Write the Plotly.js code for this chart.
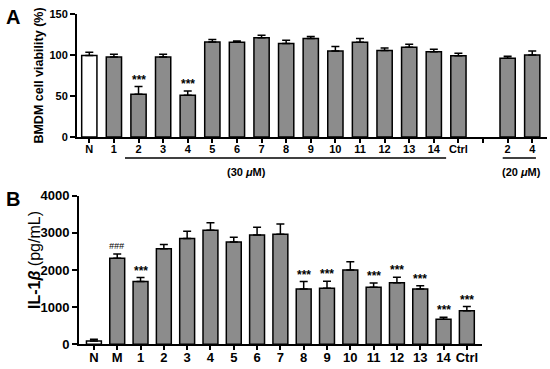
<!DOCTYPE html>
<html>
<head>
<meta charset="utf-8">
<script src="https://cdn.plot.ly/plotly-3.0.1.min.js"></script>
<style>html,body{margin:0;padding:0;background:#fff}#chart{width:550px;height:369px}</style>
</head>
<body>
<div id="chart"></div>
<script>
// ---- Panel A data: BMDM cell viability (%) ----
const labelsA = ['N','1','2','3','4','5','6','7','8','9','10','11','12','13','14','Ctrl','','2','4'];
const viabA   = [99.5,97.5,52,97.5,51,116,115.5,121,114,120,105,115.5,105.5,109.5,104,99,null,96,100];
const errA    = [4,3.5,9.5,3.5,5,3,1.5,3,4,2.5,5.5,4.5,3,3.5,3,3,null,2.5,5];
const sigA    = ['','','***','','***','','','','','','','','','','','','','',''];
const yTicksA = [0,50,100,150];

// ---- Panel B data: IL-1beta (pg/mL) ----
const labelsB = ['N','M','1','2','3','4','5','6','7','8','9','10','11','12','13','14','Ctrl'];
const il1bB   = [90,2315,1690,2575,2845,3070,2755,2945,2960,1490,1510,2000,1535,1660,1490,675,900];
const errB    = [45,115,105,110,200,205,125,205,280,200,190,220,115,145,85,50,115];
const sigB    = ['','###','***','','','','','','','***','***','','***','***','***','***','***'];
const yTicksB = [0,1000,2000,3000,4000];

const W = 550, H = 369;
const FONT = 'Liberation Sans, Arial, Helvetica, sans-serif';
const GREY = '#8c8c8c';
const px = v => v / W;
const py = v => 1 - v / H;

const idxA = labelsA.map((_, i) => i);
const idxB = labelsB.map((_, i) => i);
const colA = labelsA.map((l, i) => i === 0 ? '#ffffff' : GREY);
const colB = labelsB.map((l, i) => i === 0 ? '#ffffff' : GREY);

const lineStyle = {color: '#000', width: 1.5};

const traceA = {
  type: 'bar', x: idxA, y: viabA, xaxis: 'x', yaxis: 'y', width: 0.62,
  marker: {color: colA, line: lineStyle},
  error_y: {type: 'data', symmetric: false, array: errA, arrayminus: errA.map(() => 0),
            color: '#000', thickness: 1.5, width: 4},
  hoverinfo: 'x+y', showlegend: false
};
const traceB = {
  type: 'bar', x: idxB, y: il1bB, xaxis: 'x2', yaxis: 'y2', width: 0.64,
  marker: {color: colB, line: lineStyle},
  error_y: {type: 'data', symmetric: false, array: errB, arrayminus: errB.map(() => 0),
            color: '#000', thickness: 1.5, width: 4},
  hoverinfo: 'x+y', showlegend: false
};

const axisCommon = {
  showline: true, linecolor: '#000', linewidth: 2, ticks: 'outside', ticklen: 5,
  tickwidth: 2, tickcolor: '#000', showgrid: false, zeroline: false, fixedrange: true
};

const annotations = [];
sigA.forEach((s, i) => {
  if (s) annotations.push({xref: 'x', yref: 'y', x: i, y: viabA[i] + errA[i], text: '<b>' + s + '</b>',
    showarrow: false, yanchor: 'bottom', yshift: -2, font: {family: FONT, size: 12, color: '#000'}});
});
sigB.forEach((s, i) => {
  if (s) annotations.push({xref: 'x2', yref: 'y2', x: i, y: il1bB[i] + errB[i],
    text: s === '###' ? '<i>' + s + '</i>' : '<b>' + s + '</b>',
    showarrow: false, yanchor: 'bottom', yshift: s === '###' ? 1 : -2,
    font: {family: FONT, size: s === '###' ? 9 : 12, color: '#000'}});
});
annotations.push(
  {xref: 'paper', yref: 'paper', x: px(4), y: py(4), xanchor: 'left', yanchor: 'top', text: '<b>A</b>',
   showarrow: false, font: {family: FONT, size: 20, color: '#000'}},
  {xref: 'paper', yref: 'paper', x: px(4), y: py(186), xanchor: 'left', yanchor: 'top', text: '<b>B</b>',
   showarrow: false, font: {family: FONT, size: 20, color: '#000'}},
  {xref: 'x', yref: 'paper', x: 6.4, y: py(172), text: '<b>(30 <i>μ</i>M)</b>', showarrow: false,
   font: {family: FONT, size: 11, color: '#000'}},
  {xref: 'x', yref: 'paper', x: 17.55, y: py(172), text: '<b>(20 <i>μ</i>M)</b>', showarrow: false,
   font: {family: FONT, size: 11, color: '#000'}},
  {xref: 'paper', yref: 'paper', x: px(34), y: py(260), xanchor: 'center', yanchor: 'middle',
   textangle: -90, text: '<b>IL-1<i>β</i></b> (pg/mL)', showarrow: false,
   font: {family: FONT, size: 16, color: '#000'}}
);

const shapes = [
  {type: 'line', xref: 'x', yref: 'paper', x0: 1.45, x1: 14.5, y0: py(158), y1: py(158),
   line: {color: '#000', width: 1.5}},
  {type: 'line', xref: 'x', yref: 'paper', x0: 16.8, x1: 18.15, y0: py(158), y1: py(158),
   line: {color: '#000', width: 1.5}}
];

const layout = {
  width: W, height: H, margin: {l: 0, r: 0, t: 0, b: 0},
  paper_bgcolor: '#fff', plot_bgcolor: 'rgba(0,0,0,0)',
  font: {family: FONT, color: '#000'},
  bargap: 0.3,
  xaxis: Object.assign({}, axisCommon, {
    domain: [px(77), px(547)], range: [-0.5, 18.6], anchor: 'y',
    tickvals: idxA, ticktext: labelsA, ticklen: 4, ticklabelstandoff: -3,
    tickfont: {family: FONT, size: 11, weight: 'bold', color: '#000'}
  }),
  yaxis: Object.assign({}, axisCommon, {
    domain: [py(137), py(14)], range: [0, 150], anchor: 'x',
    tickvals: yTicksA, ticktext: yTicksA.map(String),
    tickfont: {family: FONT, size: 11, weight: 'bold', color: '#000'},
    title: {text: '<b>BMDM cell viability (%)</b>', standoff: 3,
            font: {family: FONT, size: 12.5, color: '#000'}}
  }),
  xaxis2: Object.assign({}, axisCommon, {
    domain: [px(79), px(482)], range: [-0.64, 16.65], anchor: 'y2',
    tickvals: idxB, ticktext: labelsB, ticklen: 4, ticklabelstandoff: -4,
    tickfont: {family: FONT, size: 13, weight: 'bold', color: '#000'}
  }),
  yaxis2: Object.assign({}, axisCommon, {
    domain: [py(344.3), py(195.7)], range: [0, 4000], anchor: 'x2',
    tickvals: yTicksB, ticktext: yTicksB.map(String),
    tickfont: {family: FONT, size: 13, weight: 'bold', color: '#000'}
  }),
  annotations: annotations,
  shapes: shapes
};

Plotly.newPlot('chart', [traceA, traceB], layout, {displayModeBar: false, staticPlot: true});
</script>
</body>
</html>
